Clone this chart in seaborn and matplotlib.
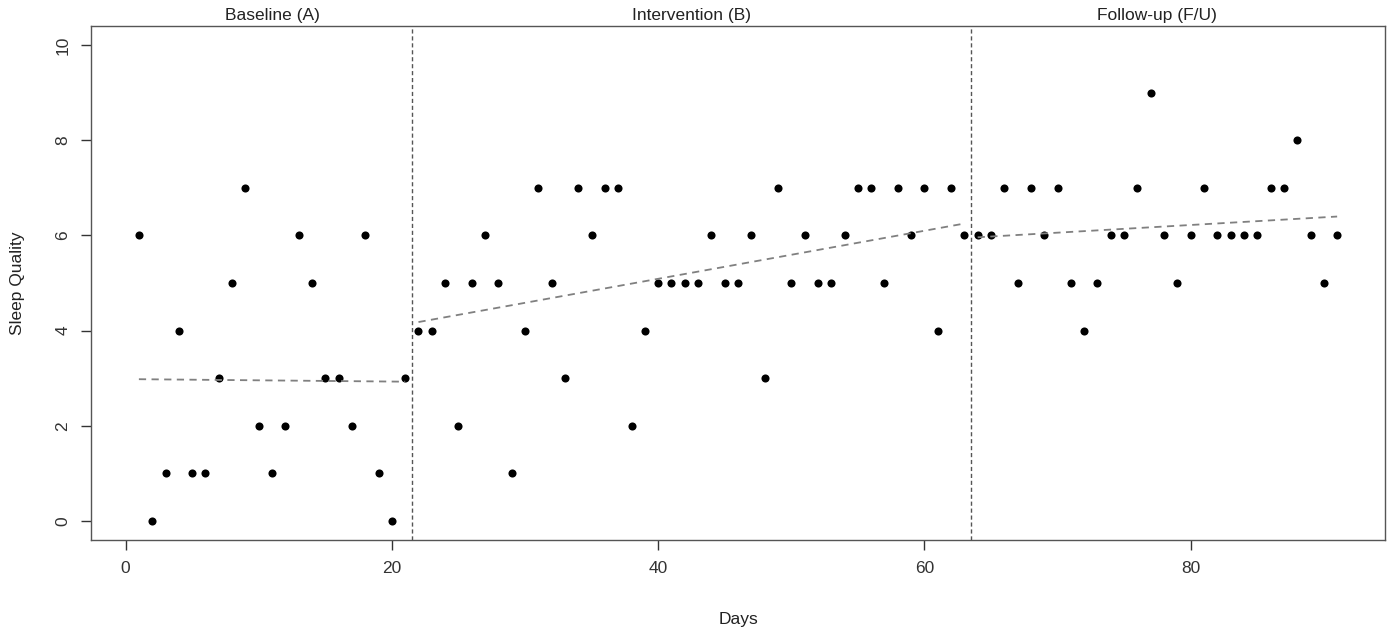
import numpy as np
import pandas as pd
import matplotlib
matplotlib.use("Agg")
import matplotlib.pyplot as plt
import seaborn as sns

# Sleep quality ratings per day, split by phase
baseline = [6, 0, 1, 4, 1, 1, 3, 5, 7, 2, 1, 2, 6, 5, 3, 3, 2, 6, 1, 0, 3]
intervention = [4, 4, 5, 2, 5, 6, 5, 1, 4, 7, 5, 3, 7, 6, 7, 7, 2, 4, 5, 5,
                5, 5, 6, 5, 5, 6, 3, 7, 5, 6, 5, 5, 6, 7, 7, 5, 7, 6, 7, 4,
                7, 6]
followup = [6, 6, 7, 5, 7, 6, 7, 5, 4, 5, 6, 6, 7, 9, 6, 5, 6, 7, 6, 6,
            6, 6, 7, 7, 8, 6, 5, 6]
phase_names = ["Baseline (A)", "Intervention (B)", "Follow-up (F/U)"]

phases = [baseline, intervention, followup]
rows = []
day = 1
for name, vals in zip(phase_names, phases):
    for v in vals:
        rows.append({"day": day, "score": v, "phase": name})
        day += 1
df = pd.DataFrame(rows)

sns.set_style("white")
plt.rcParams["font.family"] = ["Liberation Sans", "DejaVu Sans"]

fig = plt.figure(figsize=(13.93, 6.3), dpi=100)
ax = fig.add_axes([0.0653, 0.1429, 0.9290, 0.8158])

sns.scatterplot(data=df, x="day", y="score", color="black", s=34,
                edgecolor="black", linewidth=0, ax=ax, legend=False)

# trend line within each phase
for name in phase_names:
    sub = df[df["phase"] == name]
    sns.regplot(data=sub, x="day", y="score", scatter=False, ci=None,
                ax=ax, color="#808080",
                line_kws={"linestyle": (0, (4, 3)), "linewidth": 1.3})

# phase change lines and labels
bounds = df.groupby("phase", sort=False)["day"].agg(["min", "max"])
for i, name in enumerate(phase_names):
    lo, hi = bounds.loc[name, "min"], bounds.loc[name, "max"]
    if i > 0:
        ax.axvline(lo - 0.5, color="#555555", linestyle=(0, (3, 2)), linewidth=1)
    ax.text((lo + hi) / 2, 10.47, name, ha="center", va="bottom",
            fontsize=12.5, color="#222222")

ax.set_xlim(-2.6, 94.6)
ax.set_ylim(-0.4, 10.4)
ax.set_xticks([0, 20, 40, 60, 80])
ax.set_yticks([0, 2, 4, 6, 8, 10])
ax.tick_params(axis="both", direction="out", length=7, width=1,
               color="#333333", labelcolor="#333333", labelsize=12.5,
               bottom=True, left=True, pad=8)
plt.setp(ax.get_yticklabels(), rotation=90, va="center")
ax.set_xlabel("Days", fontsize=12.5, color="#222222", labelpad=26)
ax.set_ylabel("Sleep Quality", fontsize=12.5, color="#222222", labelpad=22)
for s in ax.spines.values():
    s.set_color("#555555")
    s.set_linewidth(1)

fig.savefig("out.png", dpi=100)
